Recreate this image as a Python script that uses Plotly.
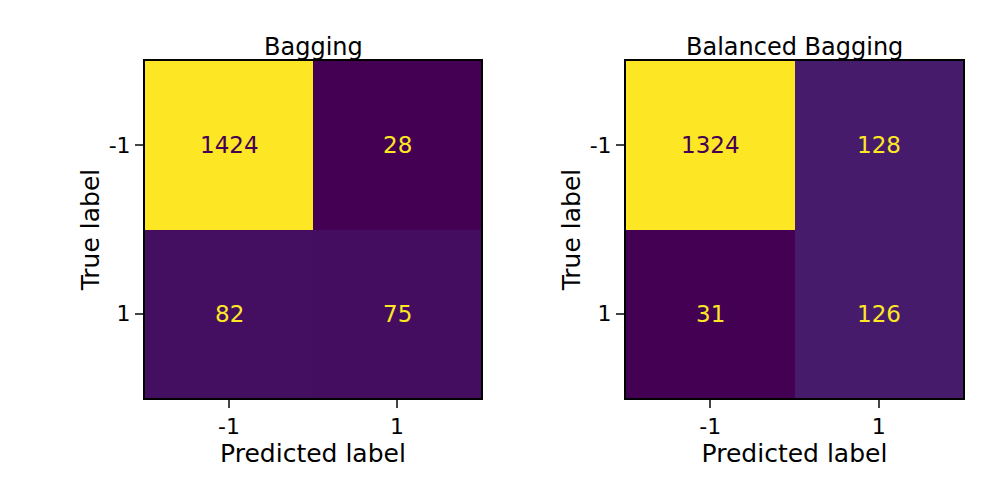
import plotly.graph_objects as go

labels = ["-1", "1"]
titles = ["Bagging", "Balanced Bagging"]
cm_bagging = [[1424, 28], [82, 75]]
cm_balanced = [[1324, 128], [31, 126]]
mats = [cm_bagging, cm_balanced]

FONT = "DejaVu Sans"
fig = go.Figure()
xdoms = [[0.137, 0.473], [0.618, 0.955]]
ydom = [0.22, 0.894]
annots = []
for i, m in enumerate(mats):
    xa = "x" if i == 0 else "x2"
    ya = "y" if i == 0 else "y2"
    flat = [v for r in m for v in r]
    lo, hi = min(flat), max(flat)
    fig.add_trace(go.Heatmap(z=m, x=[0, 1], y=[0, 1], colorscale="Viridis",
                             zmin=lo, zmax=hi, showscale=False, xaxis=xa, yaxis=ya,
                             hoverinfo="skip"))
    thr = (lo + hi) / 2
    for r in range(2):
        for c in range(2):
            v = m[r][c]
            annots.append(dict(x=c, y=r, xref=xa, yref=ya, text=str(v), showarrow=False,
                               font=dict(family=FONT, size=23,
                                         color="#440154" if v > thr else "#fde725")))
    annots.append(dict(x=sum(xdoms[i]) / 2, y=ydom[1], xref="paper", yref="paper",
                       xanchor="center", yanchor="bottom", yshift=-2, text=titles[i],
                       showarrow=False, font=dict(family=FONT, size=24, color="black")))
    common = dict(showline=True, mirror=True, linewidth=2, linecolor="black", ticks="outside",
                  ticklen=8, tickwidth=2, showgrid=False, zeroline=False, automargin=False,
                  tickvals=[0, 1], ticktext=labels,
                  tickfont=dict(family=FONT, size=22, color="black"))
    ax = dict(domain=xdoms[i], range=[-0.5, 1.5],
              title=dict(text="Predicted label", font=dict(family=FONT, size=25), standoff=2),
              **common)
    ay = dict(domain=ydom, range=[1.5, -0.5],
              title=dict(text="True label", font=dict(family=FONT, size=25), standoff=2),
              **common)
    if i == 0:
        fig.update_layout(xaxis=ax, yaxis=ay)
    else:
        ax["anchor"] = "y2"; ay["anchor"] = "x2"
        fig.update_layout(xaxis2=ax, yaxis2=ay)

fig.update_layout(width=1000, height=500, margin=dict(l=0, r=0, t=0, b=0, autoexpand=False),
                  plot_bgcolor="white", paper_bgcolor="white", annotations=annots,
                  font=dict(family=FONT, color="black"))
fig.write_html("out.html")
